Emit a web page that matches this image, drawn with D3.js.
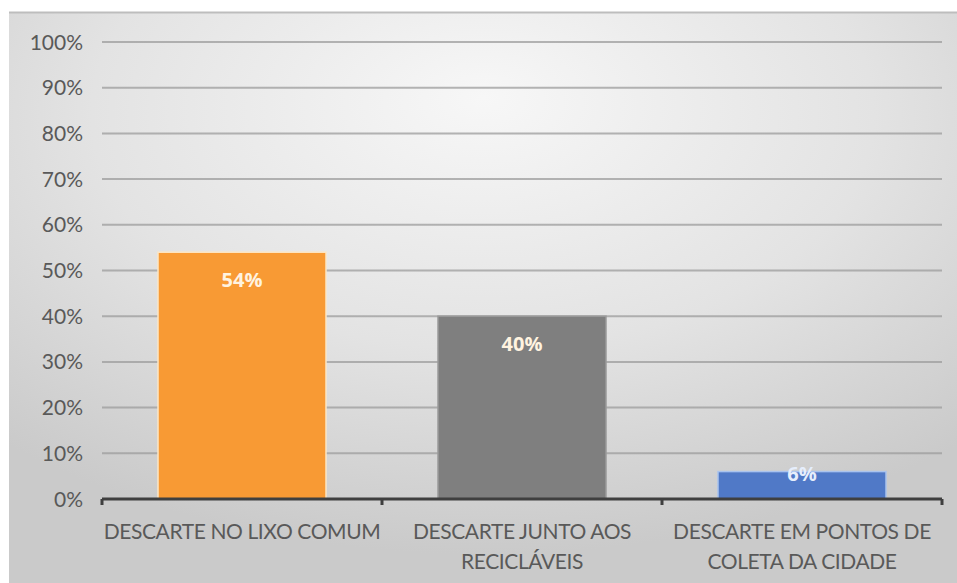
<!DOCTYPE html>
<html>
<head>
<meta charset="utf-8">
<script src="https://cdn.jsdelivr.net/npm/d3@7"></script>
<style>
  html, body { margin: 0; padding: 0; background: #ffffff; }
  svg { display: block; }
  text { font-family: "Lato", "Open Sans", sans-serif; }
</style>
</head>
<body>
<svg id="chart" width="957" height="583"></svg>
<script>
// Categories, values and axis ticks
const categories = [
  ["DESCARTE NO LIXO COMUM"],
  ["DESCARTE JUNTO AOS", "RECICLÁVEIS"],
  ["DESCARTE EM PONTOS DE", "COLETA DA CIDADE"]
];
const values = [0.54, 0.40, 0.06];
const barColors = ["#f89a34", "#7f7f7f", "#5079c7"];
const barStrokes = ["#fde6c4", "#9a9a9a", "#a9c3ee"];
const yTicks = [0, 0.1, 0.2, 0.3, 0.4, 0.5, 0.6, 0.7, 0.8, 0.9, 1.0];

const svg = d3.select("#chart");
const W = 957, H = 583;

// Panel background with soft radial shading
const defs = svg.append("defs");
const grad = defs.append("radialGradient")
  .attr("id", "bg").attr("cx", "50%").attr("cy", "20%").attr("r", "75%")
  .attr("fx", "50%").attr("fy", "15%");
grad.append("stop").attr("offset", "0%").attr("stop-color", "#f7f7f7");
grad.append("stop").attr("offset", "55%").attr("stop-color", "#e3e3e3");
grad.append("stop").attr("offset", "100%").attr("stop-color", "#cacaca");

svg.append("rect").attr("x", 9).attr("y", 12).attr("width", W - 9).attr("height", H - 12)
  .attr("fill", "url(#bg)");
svg.append("line").attr("x1", 9).attr("x2", W).attr("y1", 12.5).attr("y2", 12.5)
  .attr("stroke", "#bdbdbd").attr("stroke-width", 2);

const margin = { left: 102, right: 15, top: 42, bottom: 84 };
const x = d3.scaleBand()
  .domain(d3.range(categories.length))
  .range([margin.left, W - margin.right])
  .paddingInner(0.4).paddingOuter(0.2);
const y = d3.scaleLinear().domain([0, 1]).range([H - margin.bottom, margin.top]);

// Horizontal gridlines
svg.append("g")
  .selectAll("line").data(yTicks.filter(d => d > 0)).join("line")
  .attr("x1", margin.left).attr("x2", W - margin.right)
  .attr("y1", d => y(d)).attr("y2", d => y(d))
  .attr("stroke", "#9c9c9c").attr("stroke-opacity", 0.75).attr("stroke-width", 2);

// Y tick labels
svg.append("g")
  .selectAll("text").data(yTicks).join("text")
  .attr("x", 83).attr("y", d => y(d)).attr("dy", "0.36em")
  .attr("text-anchor", "end").attr("fill", "#595959").attr("font-size", 21)
  .text(d => d3.format(".0%")(d));

// Bars
svg.append("g")
  .selectAll("rect").data(values).join("rect")
  .attr("x", (d, i) => x(i)).attr("width", x.bandwidth())
  .attr("y", d => y(d)).attr("height", d => y(0) - y(d))
  .attr("fill", (d, i) => barColors[i])
  .attr("stroke", (d, i) => barStrokes[i]).attr("stroke-width", 1.5);

// Value labels
svg.append("g")
  .selectAll("text").data(values).join("text")
  .attr("x", (d, i) => x(i) + x.bandwidth() / 2)
  .attr("y", d => d < 0.1 ? y(d) + 2 : y(d) + 28)
  .attr("dy", "0.36em").attr("text-anchor", "middle")
  .attr("fill", (d, i) => i === 2 ? "#e6eefc" : "#fff3e0")
  .attr("font-size", 20).attr("font-weight", "bold")
  .style("font-family", "'Open Sans', 'Lato', sans-serif")
  .text(d => d3.format(".0%")(d));

// Category axis: baseline with boundary ticks
const axisY = y(0);
const boundaries = d3.range(categories.length + 1).map(i => margin.left + i * x.step());
svg.append("line")
  .attr("x1", margin.left).attr("x2", W - margin.right)
  .attr("y1", axisY).attr("y2", axisY)
  .attr("stroke", "#3f3f3f").attr("stroke-width", 3);
svg.append("g").selectAll("line").data(boundaries).join("line")
  .attr("x1", d => d).attr("x2", d => d)
  .attr("y1", axisY).attr("y2", axisY + 6)
  .attr("stroke", "#3f3f3f").attr("stroke-width", 3);

// Category labels
const catG = svg.append("g").selectAll("text").data(categories).join("text")
  .attr("text-anchor", "middle").attr("fill", "#595959").attr("font-size", 21)
  .attr("letter-spacing", -0.4)
  .attr("x", (d, i) => x(i) + x.bandwidth() / 2);
catG.selectAll("tspan").data(d => d).join("tspan")
  .attr("x", function () { return d3.select(this.parentNode).attr("x"); })
  .attr("y", (d, j) => 531 + j * 30).attr("dy", "0.36em")
  .text(d => d);
</script>
</body>
</html>
